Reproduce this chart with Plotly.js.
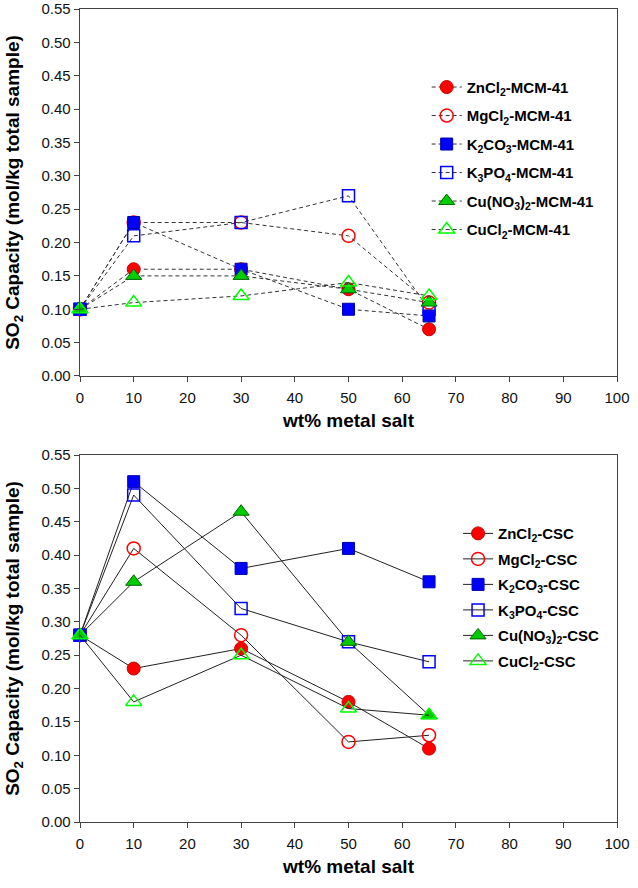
<!DOCTYPE html>
<html>
<head>
<meta charset="utf-8">
<script src="https://cdn.plot.ly/plotly-3.0.1.min.js"></script>
<style>html,body{margin:0;padding:0;background:#fff;}#chart{width:638px;height:888px;}</style>
</head>
<body>
<div id="chart"></div>
<script>
// ---- data ----
const wt = [0, 10, 30, 50, 65];

const mcmNames = ['ZnCl<sub>2</sub>-MCM-41', 'MgCl<sub>2</sub>-MCM-41', 'K<sub>2</sub>CO<sub>3</sub>-MCM-41',
                  'K<sub>3</sub>PO<sub>4</sub>-MCM-41', 'Cu(NO<sub>3</sub>)<sub>2</sub>-MCM-41', 'CuCl<sub>2</sub>-MCM-41'];
const mcmZnCl2  = [0.10, 0.16, 0.16, 0.13, 0.07];
const mcmMgCl2  = [0.10, 0.23, 0.23, 0.21, 0.11];
const mcmK2CO3  = [0.10, 0.23, 0.16, 0.10, 0.09];
const mcmK3PO4  = [0.10, 0.21, 0.23, 0.27, 0.10];
const mcmCuNO3  = [0.10, 0.15, 0.15, 0.13, 0.11];
const mcmCuCl2  = [0.10, 0.11, 0.12, 0.14, 0.12];

const cscNames = ['ZnCl<sub>2</sub>-CSC', 'MgCl<sub>2</sub>-CSC', 'K<sub>2</sub>CO<sub>3</sub>-CSC',
                  'K<sub>3</sub>PO<sub>4</sub>-CSC', 'Cu(NO<sub>3</sub>)<sub>2</sub>-CSC', 'CuCl<sub>2</sub>-CSC'];
const cscZnCl2  = [0.28, 0.23, 0.26, 0.18, 0.11];
const cscMgCl2  = [0.28, 0.41, 0.28, 0.12, 0.13];
const cscK2CO3  = [0.28, 0.51, 0.38, 0.41, 0.36];
const cscK3PO4  = [0.28, 0.49, 0.32, 0.27, 0.24];
const cscCuNO3  = [0.28, 0.36, 0.465, 0.27, 0.16];
const cscCuCl2  = [0.28, 0.18, 0.25, 0.17, 0.16];

const xTitle = 'wt% metal salt';
const yTitle = 'SO<sub>2</sub> Capacity (mol/kg total sample)';

// ---- styles ----
const markerStyles = [
  {symbol: 'circle', color: '#FF0000', line: {color: '#CC0000', width: 1}, size: 13},
  {symbol: 'circle-open', color: '#FF0000', line: {color: '#FF0000', width: 1.5}, size: 13},
  {symbol: 'square', color: '#0000FF', line: {color: '#0000AA', width: 1}, size: 12},
  {symbol: 'square-open', color: '#0000FF', line: {color: '#0000FF', width: 1.5}, size: 12},
  {symbol: 'triangle-up', color: '#00CC00', line: {color: '#006600', width: 1}, size: 14},
  {symbol: 'triangle-up-open', color: '#00FF00', line: {color: '#00EE00', width: 1.5}, size: 14}
];

const mcmSeries = [mcmZnCl2, mcmMgCl2, mcmK2CO3, mcmK3PO4, mcmCuNO3, mcmCuCl2];
const cscSeries = [cscZnCl2, cscMgCl2, cscK2CO3, cscK3PO4, cscCuNO3, cscCuCl2];

const traces = [];
mcmSeries.forEach((ys, i) => {
  traces.push({
    x: wt, y: ys, name: mcmNames[i], type: 'scatter', mode: 'lines+markers',
    xaxis: 'x', yaxis: 'y', legend: 'legend', legendgroup: 'm' + i,
    cliponaxis: false,
    line: {color: '#333333', width: 1, dash: '4px,3px'},
    marker: markerStyles[i]
  });
});
cscSeries.forEach((ys, i) => {
  traces.push({
    x: wt, y: ys, name: cscNames[i], type: 'scatter', mode: 'lines+markers',
    xaxis: 'x2', yaxis: 'y2', legend: 'legend2', legendgroup: 'c' + i,
    cliponaxis: false,
    line: {color: '#222222', width: 1},
    marker: markerStyles[i]
  });
});

const fontFam = 'Liberation Sans, Arial, sans-serif';
const tickFont = {family: fontFam, size: 15, color: '#111'};
const titleFont = {family: fontFam, size: 19, color: '#000', weight: 'bold'};

function xAxis(anchor) {
  return {
    anchor: anchor, range: [0, 100], dtick: 10, tick0: 0,
    showgrid: false, zeroline: false, showline: true, linecolor: '#444', linewidth: 1.3,
    mirror: true, ticks: 'outside', ticklen: 5, tickcolor: '#444', ticklabelstandoff: 3,
    tickfont: tickFont, title: {text: '<b>' + xTitle + '</b>', font: titleFont, standoff: 8}
  };
}
function yAxis(anchor, domain) {
  return {
    anchor: anchor, domain: domain, range: [0, 0.55], dtick: 0.05, tick0: 0, tickformat: '.2f',
    showgrid: false, zeroline: false, showline: true, linecolor: '#444', linewidth: 1.3,
    mirror: true, ticks: 'outside', ticklen: 5, tickcolor: '#444',
    tickfont: tickFont, title: {text: '<b>' + yTitle + '</b>', font: titleFont, standoff: 16}
  };
}

const legFont = {family: fontFam, size: 15, color: '#000', weight: 'bold'};

const layout = {
  width: 638, height: 888,
  margin: {l: 80, r: 21, t: 9, b: 66},
  paper_bgcolor: '#fff', plot_bgcolor: '#fff',
  showlegend: true,
  xaxis: xAxis('y'),
  yaxis: yAxis('x', [0.5486, 1]),
  xaxis2: xAxis('y2'),
  yaxis2: yAxis('x2', [0, 0.4514]),
  legend: {
    x: 0.6456, y: 0.924, xanchor: 'left', yanchor: 'top', bgcolor: 'rgba(0,0,0,0)',
    font: legFont, traceorder: 'grouped', tracegroupgap: 6, itemwidth: 30
  },
  legend2: {
    x: 0.704, y: 0.375, xanchor: 'left', yanchor: 'top', bgcolor: 'rgba(0,0,0,0)',
    font: legFont, traceorder: 'grouped', tracegroupgap: 3, itemwidth: 30
  }
};

Plotly.newPlot('chart', traces, layout, {displayModeBar: false, staticPlot: true});
</script>
</body>
</html>
